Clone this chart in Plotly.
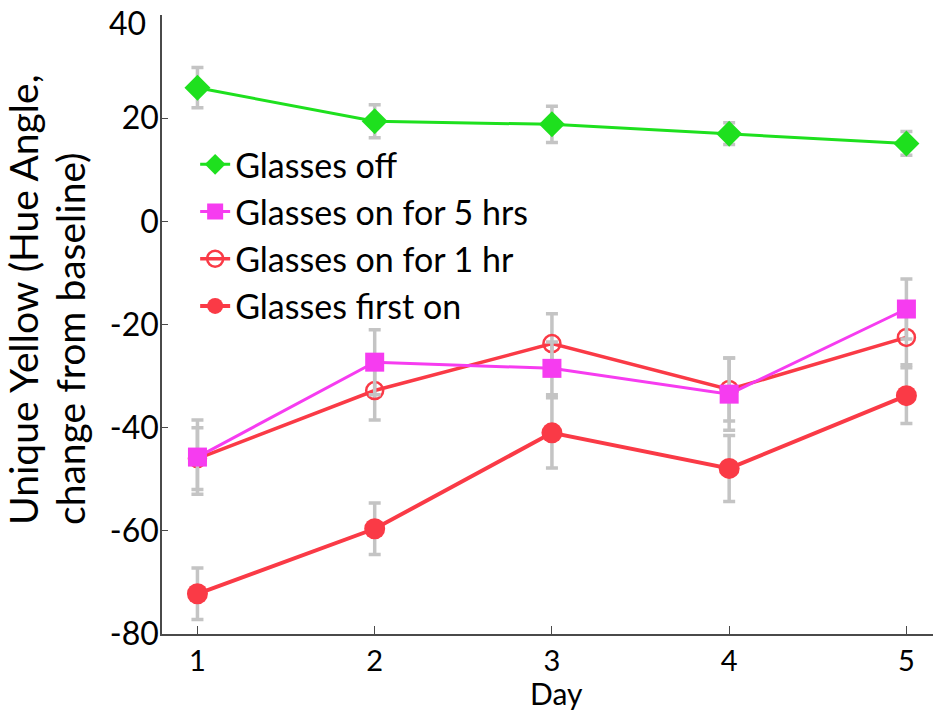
import plotly.graph_objects as go

days = [1, 2, 3, 4, 5]
day_labels = ["1", "2", "3", "4", "5"]
y_ticks = [-80, -60, -40, -20, 0, 20, 40]
y_tick_labels = ["-80", "-60", "-40", "-20", "0", "20", ""]
top_tick_value = 40
top_tick_label = "40"

off_y = [25.9, 19.4, 18.8, 17.0, 15.1]
off_err = [3.9, 3.2, 3.5, 2.1, 2.3]

on5_y = [-45.7, -27.3, -28.5, -33.5, -17.0]
on5_err = [7.2, 6.3, 5.1, 7.0, 5.8]

on1_y = [-46.0, -32.8, -23.7, -32.6, -22.5]
on1_err = [6.0, 5.7, 5.8, 6.1, 5.3]

first_y = [-72.2, -59.6, -41.0, -47.9, -33.8]
first_err = [5.0, 5.0, 6.8, 6.4, 5.4]

names = ["Glasses off", "Glasses on for 5 hrs", "Glasses on for 1 hr", "Glasses first on"]

GREEN = "#1EE01E"
MAGENTA = "#F63CF0"
RED = "#FA3A46"
ERR = "#C4C4C4"
AX = "#4A4A4A"
FONT = "Lato"

fig = go.Figure()

def err(vals):
    return dict(type="data", array=vals, visible=True, color=ERR, thickness=3.5, width=6)

fig.add_trace(go.Scatter(x=days, y=first_y, name=names[3], mode="lines+markers",
                         line=dict(color=RED, width=4),
                         marker=dict(symbol="circle", size=21, color=RED),
                         error_y=err(first_err), legendgroup="d", legendrank=4))
fig.add_trace(go.Scatter(x=days, y=on1_y, name=names[2], mode="lines+markers",
                         line=dict(color=RED, width=3.5),
                         marker=dict(symbol="circle-open", size=17, color=RED, line=dict(width=2.5, color=RED)),
                         error_y=err(on1_err), legendgroup="c", legendrank=3))
fig.add_trace(go.Scatter(x=days, y=on5_y, name=names[1], mode="lines+markers",
                         line=dict(color=MAGENTA, width=3),
                         marker=dict(symbol="square", size=19, color=MAGENTA),
                         error_y=err(on5_err), legendgroup="b", legendrank=2))
fig.add_trace(go.Scatter(x=days, y=off_y, name=names[0], mode="lines+markers",
                         line=dict(color=GREEN, width=3),
                         marker=dict(symbol="diamond", size=20, color=GREEN),
                         error_y=err(off_err), legendgroup="a", legendrank=1))

fig.update_layout(
    width=933, height=711,
    margin=dict(l=162, r=0, t=15, b=77, autoexpand=False),
    plot_bgcolor="white", paper_bgcolor="white",
    font=dict(family=FONT, color="black", size=26),
    showlegend=True,
    legend=dict(x=0.043, y=0.805, xanchor="left", yanchor="top",
                bgcolor="rgba(0,0,0,0)", font=dict(size=34, family=FONT),
                traceorder="grouped", tracegroupgap=0, itemwidth=30),
    xaxis=dict(range=[0.8, 5.15], tickvals=days, ticktext=day_labels,
               showgrid=False, zeroline=False, showline=True, linecolor=AX, linewidth=1.5,
               ticks="inside", ticklen=8, tickcolor=AX, tickfont=dict(size=29),
               ticklabeloverflow="allow", automargin=False),
    yaxis=dict(range=[-80, 40], tickvals=y_ticks, ticktext=y_tick_labels,
               showgrid=False, zeroline=False, showline=True, linecolor=AX, linewidth=1.5,
               ticks="inside", ticklen=6, tickcolor=AX, tickfont=dict(size=32),
               ticklabeloverflow="allow", ticklabelstandoff=-5, automargin=False),
)

# top tick label, nudged down slightly so it stays inside the page (as in the reference)
fig.add_annotation(text=top_tick_label, xref="paper", yref="y",
                   x=0, y=top_tick_value, xanchor="right", yanchor="middle",
                   xshift=-14, yshift=-7, showarrow=False,
                   font=dict(size=32, family=FONT))

fig.add_annotation(text="Unique Yellow (Hue Angle,", xref="paper", yref="paper",
                   x=0, y=0.173, xshift=-139, textangle=-90, showarrow=False,
                   xanchor="center", yanchor="bottom",
                   font=dict(size=39, family=FONT))
fig.add_annotation(text="change from baseline)", xref="paper", yref="paper",
                   x=0, y=0.173, xshift=-92, textangle=-90, showarrow=False,
                   xanchor="center", yanchor="bottom",
                   font=dict(size=39, family=FONT))
fig.add_annotation(text="Day", xref="paper", yref="paper",
                   x=0.512, y=0, yshift=-59, showarrow=False,
                   yanchor="middle",
                   font=dict(size=30, family=FONT))

fig.write_html("out.html")
